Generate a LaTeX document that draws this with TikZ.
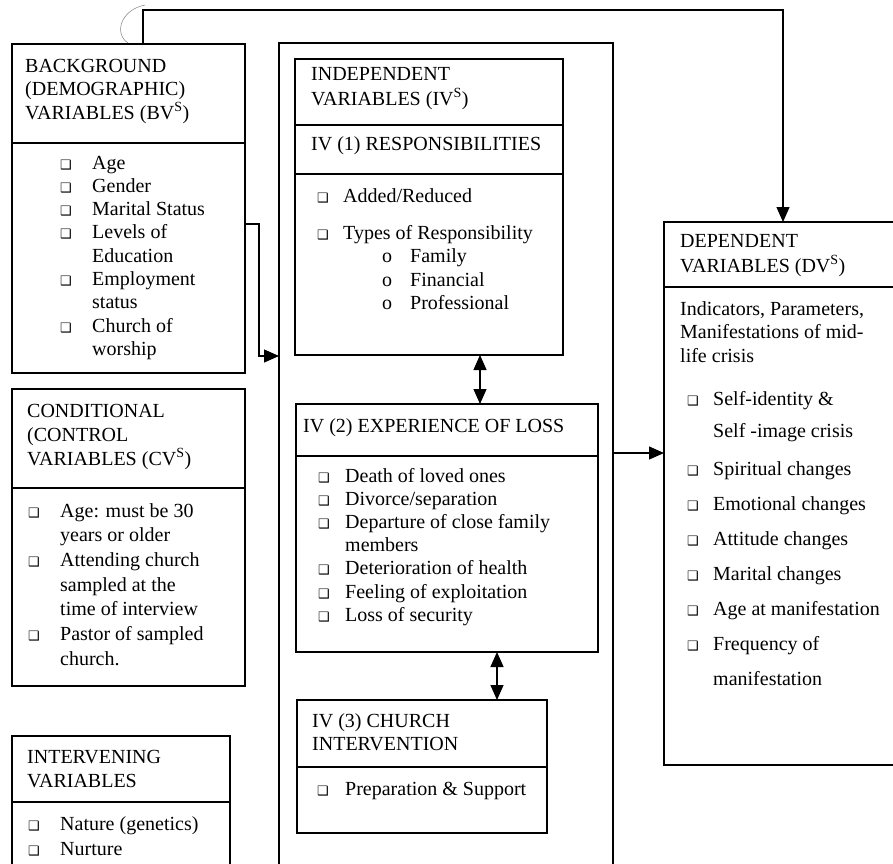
\documentclass[tikz,border=0pt]{standalone}
\usepackage{fontspec}
\setmainfont{Liberation Serif}
\newfontfamily\symb{DejaVu Sans}
\usetikzlibrary{arrows.meta}
\tikzstyle{boite} = [draw, line width=1.3pt, inner sep=0pt, outer sep=0pt, anchor=north west]
\tikzstyle{texte} = [inner sep=0pt, anchor=base west]
\tikzstyle{lien} = [-{Triangle[length=15pt,width=13pt]}, line width=1.3pt]
\tikzstyle{lienbi} = [{Triangle[length=15pt,width=13pt]}-{Triangle[length=15pt,width=13pt]}, line width=1.3pt]
\newcommand{\taille}[1]{\fontsize{20}{#1}\selectfont}
\newcommand{\puce}{{\symb\fontsize{13}{13}\selectfont ❑}}
\newcommand{\rond}{o}

\begin{document}
\begin{tikzpicture}[x=1pt,y=-1pt]
	\useasboundingbox (0,0) rectangle (893,863);
	\clip (0,0) rectangle (893,863);

	% les boites
	\node[boite, minimum width=233pt, minimum height=329pt] (BV) at (12,44) {};
	\node[boite, minimum width=233pt, minimum height=297pt] (CV) at (12,389) {};
	\node[boite, minimum width=218pt, minimum height=200pt] (INT) at (12,736) {};
	\node[boite, minimum width=334pt, minimum height=900pt] (IV) at (279,43) {};
	\node[boite, minimum width=268pt, minimum height=296pt] (IV1) at (295,59) {};
	\node[boite, minimum width=302pt, minimum height=248pt] (IV2) at (296,404) {};
	\node[boite, minimum width=250pt, minimum height=133pt] (IV3) at (297,700) {};
	\node[boite, minimum width=240pt, minimum height=543pt] (DV) at (664,222) {};

	\draw[line width=1.3pt] (BV.west |- 0,143) -- (BV.east |- 0,143);
	\draw[line width=1.3pt] (CV.west |- 0,488) -- (CV.east |- 0,488);
	\draw[line width=1.3pt] (INT.west |- 0,802) -- (INT.east |- 0,802);
	\draw[line width=1.3pt] (IV1.west |- 0,125) -- (IV1.east |- 0,125);
	\draw[line width=1.3pt] (IV1.west |- 0,174) -- (IV1.east |- 0,174);
	\draw[line width=1.3pt] (IV2.west |- 0,456) -- (IV2.east |- 0,456);
	\draw[line width=1.3pt] (IV3.west |- 0,767) -- (IV3.east |- 0,767);
	\draw[line width=1.3pt] (DV.west |- 0,287) -- (DV.east |- 0,287);

	% textes de gauche
	\node[texte, font=\taille{23.5}] (bvtitre) at (25,72) {\begin{tabular}[t]{@{}l@{}}BACKGROUND\\(DEMOGRAPHIC)\\VARIABLES (BV\textsuperscript{S})\end{tabular}};
	\node[texte, font=\taille{23.3}] (bvliste) at (60,169) {\begin{tabular}[t]{@{}p{32pt}@{}l@{}}
		\puce & Age\\ \puce & Gender\\ \puce & Marital Status\\ \puce & Levels of\\ & Education\\
		\puce & Employment\\ & status\\ \puce & Church of\\ & worship\end{tabular}};

	\node[texte, font=\taille{24}] (cvtitre) at (27,417) {\begin{tabular}[t]{@{}l@{}}CONDITIONAL\\(CONTROL\\VARIABLES (CV\textsuperscript{S})\end{tabular}};
	\node[texte, font=\taille{24.7}] (cvliste) at (28,517) {\begin{tabular}[t]{@{}p{32pt}@{}l@{}}
		\puce & Age: must be 30\\ & years or older\\ \puce & Attending church\\ & sampled at the\\
		& time of interview\\ \puce & Pastor of sampled\\ & church.\end{tabular}};

	\node[texte, font=\taille{24}] (inttitre) at (27,763) {\begin{tabular}[t]{@{}l@{}}INTERVENING\\VARIABLES\end{tabular}};
	\node[texte, font=\taille{25}] (intliste) at (28,830) {\begin{tabular}[t]{@{}p{32pt}@{}l@{}}
		\puce & Nature (genetics)\\ \puce & Nurture\end{tabular}};

	% textes du milieu
	\node[texte, font=\taille{25}] (ivtitre) at (311,80) {\begin{tabular}[t]{@{}l@{}}INDEPENDENT\\VARIABLES (IV\textsuperscript{S})\end{tabular}};
	\node[texte, font=\taille{23.5}] (iv1titre) at (311,150) {IV (1) RESPONSIBILITIES};
	\node[texte, font=\taille{23.5}] (iv1liste) at (317,202) {\begin{tabular}[t]{@{}p{26pt}@{}l@{}}
		\puce & Added/Reduced\\[13.5pt] \puce & Types of Responsibility\\
		& \hspace{39pt}\makebox[28pt][l]{\rond}Family\\
		& \hspace{39pt}\makebox[28pt][l]{\rond}Financial\\
		& \hspace{39pt}\makebox[28pt][l]{\rond}Professional\end{tabular}};

	\node[texte, font=\taille{23.5}] (iv2titre) at (303,432) {IV (2) EXPERIENCE OF LOSS};
	\node[texte, font=\taille{23.2}] (iv2liste) at (318,482) {\begin{tabular}[t]{@{}p{27pt}@{}l@{}}
		\puce & Death of loved ones\\ \puce & Divorce/separation\\ \puce & Departure of close family\\
		& members\\ \puce & Deterioration of health\\ \puce & Feeling of exploitation\\
		\puce & Loss of security\end{tabular}};

	\node[texte, font=\taille{23}] (iv3titre) at (312,727) {\begin{tabular}[t]{@{}l@{}}IV (3) CHURCH\\INTERVENTION\end{tabular}};
	\node[texte, font=\taille{23.5}] (iv3liste) at (317,795) {\begin{tabular}[t]{@{}p{28pt}@{}l@{}}
		\puce & Preparation \& Support\end{tabular}};

	% textes de droite
	\node[texte, font=\taille{25}] (dvtitre) at (680,247) {\begin{tabular}[t]{@{}l@{}}DEPENDENT\\VARIABLES (DV\textsuperscript{S})\end{tabular}};
	\node[texte, font=\taille{23.5}] (dvcorps) at (680,315) {\begin{tabular}[t]{@{}l@{}}Indicators, Parameters,\\Manifestations of mid-\\life crisis\end{tabular}};
	\node[texte, font=\taille{35}] (dvliste) at (687,405) {\begin{tabular}[t]{@{}p{26pt}@{}l@{}}
		\puce & Self-identity \&\\[-3pt] & Self -image crisis\\[3pt] \puce & Spiritual changes\\
		\puce & Emotional changes\\ \puce & Attitude changes\\ \puce & Marital changes\\
		\puce & Age at manifestation\\ \puce & Frequency of\\ & manifestation\end{tabular}};

	% les fleches
	\coordinate (coude) at (259,224);
	\draw[lien] (BV.east |- coude) -- (coude) |- (IV.west |- 0,356);
	\coordinate (haut) at (143,10);
	\draw[lien] (BV.north -| haut) -- (haut) -| (DV.north -| 783,0);
	\draw[lien] (IV.east |- 0,453) -- (DV.west |- 0,453);
	\draw[lienbi] (IV1.south -| 480,0) -- (IV2.north -| 480,0);
	\draw[lienbi] (IV2.south -| 497,0) -- (IV3.north -| 497,0);

	\draw[gray, line width=0.5pt] (145,5) .. controls (120,10) and (114,34) .. (128,43);
\end{tikzpicture}
\end{document}
